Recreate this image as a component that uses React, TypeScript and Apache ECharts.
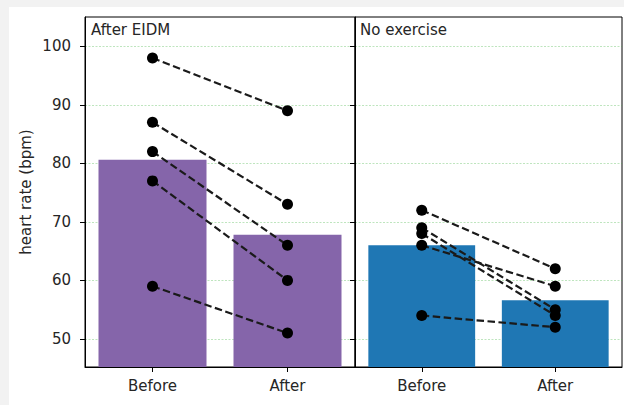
import React, { useEffect, useRef } from 'react';
import * as echarts from 'echarts';

const categories = ['Before', 'After'];
const yTicks = [50, 60, 70, 80, 90, 100];
const yMin = 45.2;
const yMax = 105;
const eidmBefore = [98, 87, 82, 77, 59];
const eidmAfter = [89, 73, 66, 60, 51];
const eidmMeans = [80.6, 67.8];
const noExBefore = [72, 69, 68, 66, 54];
const noExAfter = [62, 55, 54, 59, 52];
const noExMeans = [66.0, 56.6];
const panelTitles = ['After EIDM', 'No exercise'];
const yAxisTitle = 'heart rate (bpm)';

const FONT = 'DejaVu Sans';
const FS = 15;
const TXT = '#262626';
const PURPLE = '#8565aa';
const BLUE = '#1f77b4';

function pairSeries(before: number[], after: number[], idx: number) {
  return before.map((b, i) => ({
    type: 'line',
    xAxisIndex: idx,
    yAxisIndex: idx,
    data: [b, after[i]],
    symbol: 'circle',
    symbolSize: 11,
    itemStyle: { color: '#000' },
    lineStyle: { color: '#1a1a1a', width: 2.2, type: [7.5, 3.5] },
    z: 5,
    silent: true,
  }));
}

export default function App() {
  const ref = useRef<HTMLDivElement>(null);
  useEffect(() => {
    if (!ref.current) return;
    const chart = echarts.init(ref.current, undefined, { renderer: 'svg' });
    const xAxisBase = (gridIndex: number) => ({
      type: 'category',
      gridIndex,
      data: categories,
      boundaryGap: true,
      axisLine: { show: true, lineStyle: { color: '#000', width: 1 } },
      axisTick: { show: true, alignWithLabel: true, length: 5, lineStyle: { color: '#000' } },
      axisLabel: { color: TXT, fontFamily: FONT, fontSize: FS, margin: 11 },
      splitLine: { show: false },
    });
    const yAxisBase = (gridIndex: number, showLabels: boolean) => ({
      type: 'value',
      gridIndex,
      min: yMin,
      max: yMax,
      axisLine: { show: true, lineStyle: { color: '#000', width: 1 } },
      axisTick: { show: true, length: 5, lineStyle: { color: '#000' }, customValues: yTicks },
      axisLabel: {
        show: showLabels,
        color: TXT,
        fontFamily: FONT,
        fontSize: FS,
        margin: 14,
        customValues: yTicks,
      },
      splitLine: {
        show: true,
        lineStyle: { color: 'rgba(70,180,70,0.35)', width: 1, type: [2, 1.5] },
      },
    });
    chart.setOption({
      animation: false,
      backgroundColor: '#f2f2f2',
      grid: [
        { left: 85, top: 17, width: 270, height: 350, show: true, borderColor: '#000', borderWidth: 1, backgroundColor: '#fff' },
        { left: 355, top: 17, width: 267, height: 350, show: true, borderColor: '#000', borderWidth: 1, backgroundColor: '#fff' },
      ],
      xAxis: [xAxisBase(0), xAxisBase(1)],
      yAxis: [yAxisBase(0, true), yAxisBase(1, false)],
      graphic: [
        { type: 'rect', z: -100, silent: true, shape: { x: 9, y: 7, width: 615, height: 398 }, style: { fill: '#fff' } },
        { type: 'text', x: 91, y: 30, style: { text: panelTitles[0], fill: TXT, font: `${FS}px "${FONT}"`, textVerticalAlign: 'middle' } },
        { type: 'text', x: 360, y: 30, style: { text: panelTitles[1], fill: TXT, font: `${FS}px "${FONT}"`, textVerticalAlign: 'middle' } },
        {
          type: 'text', x: 26, y: 192, rotation: Math.PI / 2,
          style: { text: yAxisTitle, fill: TXT, font: `${FS}px "${FONT}"`, textAlign: 'center', textVerticalAlign: 'middle' },
        },
      ],
      series: [
        { type: 'bar', xAxisIndex: 0, yAxisIndex: 0, data: eidmMeans, barWidth: '80%', itemStyle: { color: PURPLE }, z: 2, silent: true },
        { type: 'bar', xAxisIndex: 1, yAxisIndex: 1, data: noExMeans, barWidth: '80%', itemStyle: { color: BLUE }, z: 2, silent: true },
        ...pairSeries(eidmBefore, eidmAfter, 0),
        ...pairSeries(noExBefore, noExAfter, 1),
      ],
    });
    return () => chart.dispose();
  }, []);
  return <div ref={ref} style={{ position: 'fixed', left: 0, top: 0, width: 624, height: 405 }} />;
}
